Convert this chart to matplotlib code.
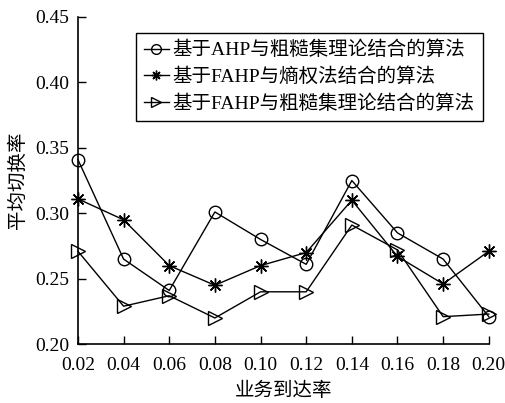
import matplotlib
matplotlib.use("Agg")
import matplotlib.pyplot as plt

plt.rcParams["font.family"] = ["Liberation Serif", "Noto Sans CJK SC", "DejaVu Sans"]

arrival_rate = [0.02, 0.04, 0.06, 0.08, 0.10, 0.12, 0.14, 0.16, 0.18, 0.20]
ahp_rough = [0.341, 0.265, 0.241, 0.301, 0.280, 0.261, 0.325, 0.285, 0.265, 0.221]
fahp_entropy = [0.311, 0.295, 0.260, 0.245, 0.260, 0.270, 0.310, 0.267, 0.246, 0.271]
fahp_rough = [0.271, 0.229, 0.237, 0.220, 0.240, 0.240, 0.291, 0.272, 0.221, 0.223]

labels = [
    "基于AHP与粗糙集理论结合的算法",
    "基于FAHP与熵权法结合的算法",
    "基于FAHP与粗糙集理论结合的算法",
]

fig = plt.figure(figsize=(5.06, 4.03), dpi=100)
ax = fig.add_axes([0.154, 0.146, 0.812, 0.812])

style = dict(color="black", linewidth=1.0, markerfacecolor="none", markeredgecolor="black",
             markeredgewidth=1.0, clip_on=False)
ax.plot(arrival_rate, ahp_rough, marker="o", markersize=9, label=labels[0], **style)
ax.plot(arrival_rate, fahp_entropy, marker=(8, 2, 0), markersize=10, label=labels[1], **style)
ax.plot(arrival_rate, fahp_rough, marker=">", markersize=10, label=labels[2], **style)

ax.set_xlim(0.02, 0.20)
ax.set_ylim(0.20, 0.45)
ax.set_xticks(arrival_rate)
ax.set_xticklabels([f"{v:.2f}" for v in arrival_rate])
ax.set_yticks([0.20, 0.25, 0.30, 0.35, 0.40, 0.45])
ax.set_yticklabels(["0.20", "0.25", "0.30", "0.35", "0.40", "0.45"])
ax.tick_params(direction="in", length=6, width=1, labelsize=14)
ax.tick_params(axis="x", pad=9)
ax.tick_params(axis="y", pad=6)
ax.spines["top"].set_visible(False)
ax.spines["right"].set_visible(False)
for s in ("left", "bottom"):
    ax.spines[s].set_linewidth(1.2)

ax.set_xlabel("业务到达率", fontsize=14, labelpad=6)
ax.set_ylabel("平均切换率", fontsize=14, labelpad=6)

leg = ax.legend(loc="upper right", bbox_to_anchor=(0.985, 0.951), fontsize=14,
                frameon=True, fancybox=False, edgecolor="black", framealpha=1,
                handlelength=1.3, handletextpad=0.2, labelspacing=0.42,
                borderpad=0.4, borderaxespad=0)
leg.get_frame().set_linewidth(1.0)
for h in leg.legend_handles:
    h.set_markersize(7)

fig.savefig("out.png", dpi=100)
